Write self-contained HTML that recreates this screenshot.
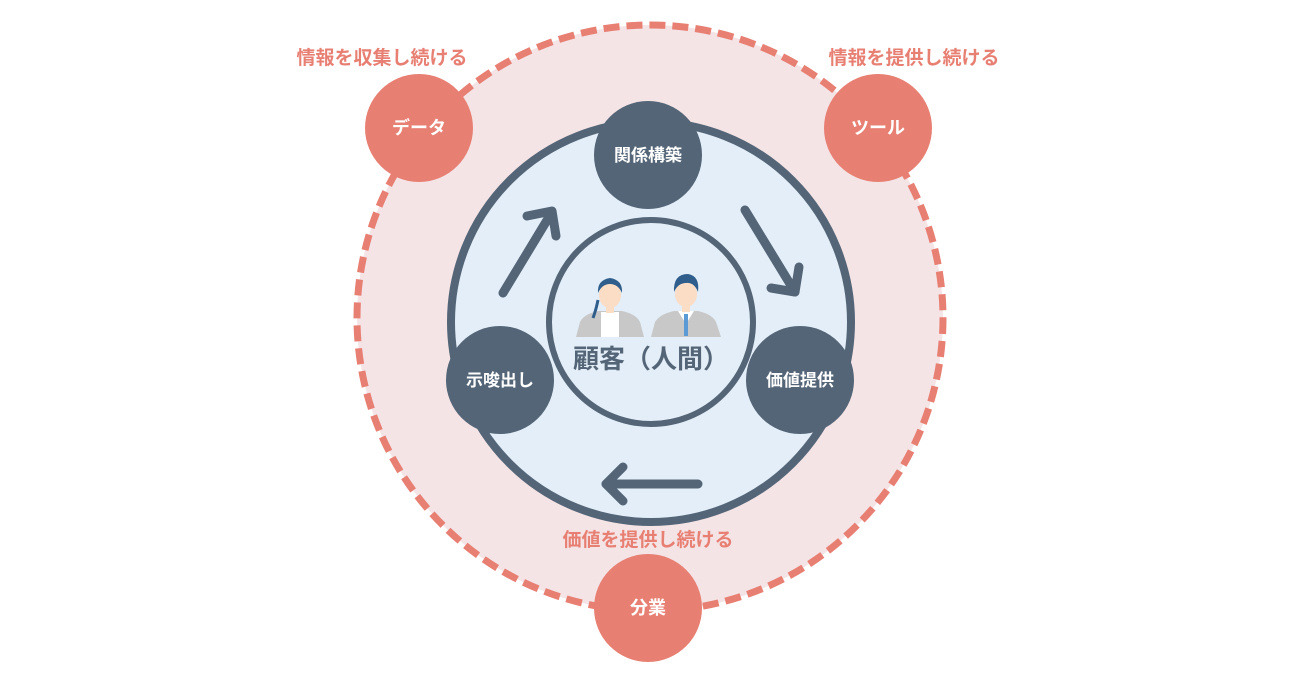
<!DOCTYPE html>
<html><head><meta charset="utf-8"><style>
html,body{margin:0;padding:0;background:#fff;}
svg text{font-family:"Liberation Sans","Noto Sans CJK JP",sans-serif;font-weight:bold;}
</style></head><body>
<svg width="1300" height="680" viewBox="0 0 1300 680" xmlns="http://www.w3.org/2000/svg">
<circle cx="650" cy="318" r="293" fill="#f4e4e6" stroke="#e87f73" stroke-width="7" stroke-dasharray="16 7"/>
<circle cx="651" cy="322" r="200" fill="#e3eef8" stroke="#546577" stroke-width="8"/>
<circle cx="651" cy="322" r="102" fill="#e3eef8" stroke="#546577" stroke-width="6"/>
<g stroke="#546577" stroke-width="9" stroke-linecap="round" stroke-linejoin="round" fill="none">
<line x1="503" y1="293" x2="552" y2="212"/><polyline points="527,216 552,211 556,236"/>
<line x1="745" y1="210" x2="795" y2="292"/><polyline points="771,288 795,292 799,267"/>
<line x1="698" y1="484" x2="606" y2="484"/><polyline points="623,467 606,484 623,501"/>
</g>
<g>
<path d="M576 337 L580 322 Q584 314 598 311 L622 311 Q636 314 640 322 L644 337 Z" fill="#c8c8c8"/>
<rect x="601" y="312" width="18" height="25" fill="#fff"/>
<ellipse cx="610" cy="295" rx="11" ry="13" fill="#fbdcc4"/>
<path d="M598 293 Q597 280 610 278 Q623 280 622 293 Q618 284 610 284 Q602 284 598 293 Z" fill="#2f5d8c"/>
<path d="M598 300 Q596 310 593 318" stroke="#2f5d8c" stroke-width="3" fill="none"/>
<rect x="606" y="305" width="8" height="8" fill="#fbdcc4"/>
<path d="M651 337 L655 322 Q660 314 674 311 L698 311 Q712 314 716 322 L721 337 Z" fill="#c8c8c8"/>
<path d="M678 311 L686 324 L694 311 Z" fill="#fff"/>
<rect x="684" y="314" width="4" height="22" fill="#5b9bd5"/>
<ellipse cx="686" cy="294" rx="11" ry="13" fill="#fbdcc4"/>
<path d="M674 292 Q673 274 688 274 Q700 276 698 292 Q694 282 686 283 Q678 283 674 292 Z" fill="#2f5d8c"/>
<rect x="682" y="304" width="8" height="8" fill="#fbdcc4"/>
</g>
<text x="651" y="368" font-size="26" fill="#546577" text-anchor="middle">顧客（人間）</text>
<g fill="#546577"><circle cx="648" cy="155" r="54"/><circle cx="500" cy="380" r="54"/><circle cx="800" cy="380" r="54"/></g>
<g fill="#fff" font-size="17" text-anchor="middle">
<text x="648" y="161">関係構築</text><text x="500" y="386">示唆出し</text><text x="800" y="386">価値提供</text>
</g>
<g fill="#e87f73"><circle cx="419" cy="128" r="54"/><circle cx="878" cy="128" r="54"/><circle cx="648" cy="608" r="54"/></g>
<g fill="#fff" font-size="18" text-anchor="middle">
<text x="419" y="134">データ</text><text x="878" y="134">ツール</text><text x="648" y="614">分業</text>
</g>
<g fill="#e87f73" font-size="19" text-anchor="middle">
<text x="382" y="64">情報を収集し続ける</text><text x="914" y="64">情報を提供し続ける</text><text x="648" y="546">価値を提供し続ける</text>
</g>
</svg>
</body></html>
